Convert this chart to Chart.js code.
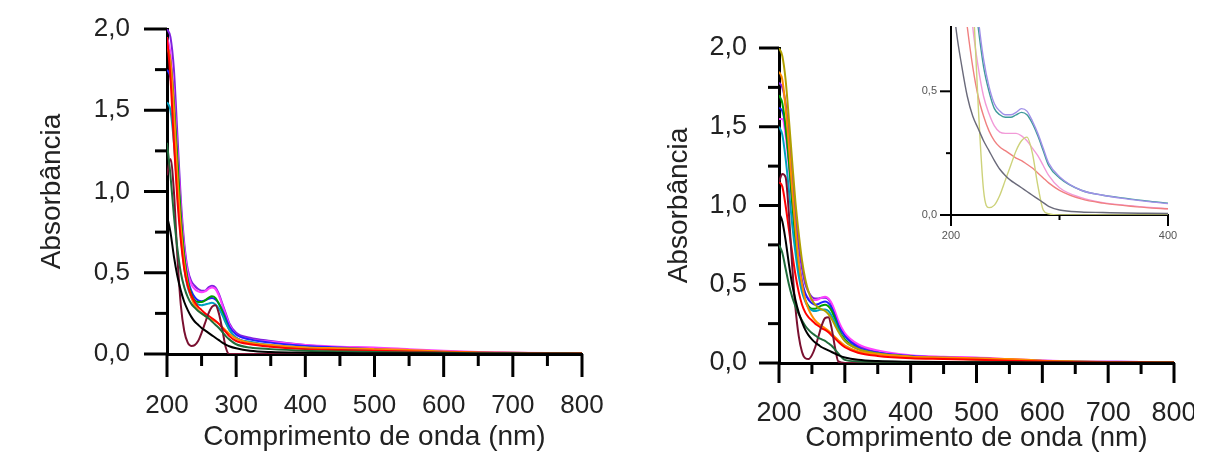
<!DOCTYPE html>
<html>
<head>
<meta charset="utf-8">
<script src="https://cdn.jsdelivr.net/npm/chart.js@4"></script>
<style>
  body { margin: 0; background: #fff; width: 1216px; height: 459px; position: relative; overflow: hidden; }
  canvas { position: absolute; }
  #left { left: 0; top: 0; }
  #right { left: 600px; top: 0; }
  #inset { left: 880px; top: 10px; }
</style>
</head>
<body>
<canvas id="left" width="610" height="459"></canvas>
<canvas id="right" width="594" height="459"></canvas>
<canvas id="inset" width="310" height="250"></canvas>
<script>
// wavelengths (nm) for the two main panels
const WL = [200, 205, 210, 215, 220, 225, 230, 235, 240, 245, 250, 255, 260, 265, 270, 275, 280, 285, 290, 300, 320, 350, 400, 450, 500, 550, 600, 650, 700, 750, 800];

// left panel spectra
const L_black   = [0.85, 0.75, 0.60, 0.48, 0.39, 0.32, 0.27, 0.23, 0.20, 0.18, 0.16, 0.145, 0.13, 0.115, 0.10, 0.085, 0.07, 0.058, 0.048, 0.035, 0.02, 0.012, 0.008, 0.006, 0.005, 0.004, 0.003, 0.002, 0.002, 0.001, 0.001];
const L_dkgreen = [1.30, 1.10, 0.85, 0.65, 0.50, 0.41, 0.35, 0.31, 0.285, 0.265, 0.25, 0.235, 0.22, 0.20, 0.18, 0.16, 0.135, 0.11, 0.09, 0.06, 0.04, 0.03, 0.02, 0.015, 0.012, 0.01, 0.007, 0.005, 0.004, 0.003, 0.002];
const L_maroon  = [1.10, 1.20, 1.00, 0.60, 0.30, 0.14, 0.07, 0.05, 0.055, 0.08, 0.13, 0.19, 0.25, 0.29, 0.30, 0.25, 0.15, 0.04, 0.0, 0.0, 0.0, 0.0, 0.0, 0.0, 0.0, 0.0, 0.0, 0.0, 0.0, 0.0, 0.0];
const L_red     = [1.95, 1.70, 1.30, 0.95, 0.70, 0.52, 0.42, 0.36, 0.32, 0.29, 0.27, 0.25, 0.235, 0.22, 0.205, 0.185, 0.16, 0.135, 0.11, 0.08, 0.06, 0.045, 0.03, 0.025, 0.02, 0.015, 0.01, 0.007, 0.005, 0.004, 0.003];
const L_orange  = [1.90, 1.80, 1.50, 1.10, 0.78, 0.56, 0.43, 0.35, 0.30, 0.27, 0.25, 0.235, 0.22, 0.21, 0.20, 0.185, 0.165, 0.145, 0.125, 0.095, 0.07, 0.055, 0.04, 0.035, 0.03, 0.025, 0.015, 0.01, 0.007, 0.005, 0.004];
const L_cyan    = [1.55, 1.50, 1.30, 1.00, 0.72, 0.53, 0.41, 0.35, 0.32, 0.305, 0.30, 0.305, 0.31, 0.315, 0.305, 0.28, 0.24, 0.19, 0.15, 0.10, 0.075, 0.055, 0.04, 0.03, 0.025, 0.018, 0.012, 0.008, 0.005, 0.004, 0.003];
const L_green   = [1.90, 1.80, 1.55, 1.20, 0.85, 0.60, 0.45, 0.37, 0.33, 0.32, 0.32, 0.33, 0.345, 0.355, 0.345, 0.31, 0.26, 0.20, 0.15, 0.10, 0.07, 0.05, 0.035, 0.025, 0.02, 0.015, 0.01, 0.006, 0.004, 0.003, 0.002];
const L_blue    = [1.75, 1.70, 1.50, 1.15, 0.82, 0.60, 0.46, 0.39, 0.35, 0.33, 0.325, 0.33, 0.34, 0.345, 0.335, 0.31, 0.27, 0.22, 0.17, 0.12, 0.09, 0.07, 0.05, 0.04, 0.03, 0.02, 0.012, 0.008, 0.005, 0.004, 0.003];
const L_magenta = [1.95, 1.85, 1.60, 1.25, 0.90, 0.65, 0.50, 0.43, 0.40, 0.385, 0.38, 0.385, 0.40, 0.41, 0.40, 0.36, 0.30, 0.24, 0.18, 0.12, 0.09, 0.075, 0.055, 0.045, 0.04, 0.03, 0.02, 0.012, 0.008, 0.006, 0.005];
const L_purple  = [2.00, 1.95, 1.75, 1.35, 0.95, 0.68, 0.52, 0.45, 0.42, 0.40, 0.39, 0.39, 0.41, 0.42, 0.41, 0.37, 0.31, 0.25, 0.19, 0.13, 0.10, 0.08, 0.055, 0.04, 0.035, 0.025, 0.015, 0.01, 0.008, 0.005, 0.004];

// right panel spectra
const R_black   = [0.95, 0.90, 0.78, 0.63, 0.50, 0.40, 0.32, 0.26, 0.21, 0.175, 0.15, 0.13, 0.115, 0.10, 0.09, 0.08, 0.07, 0.06, 0.05, 0.035, 0.02, 0.012, 0.008, 0.006, 0.005, 0.004, 0.003, 0.002, 0.002, 0.001, 0.001];
const R_dkgreen = [0.75, 0.70, 0.60, 0.50, 0.42, 0.36, 0.31, 0.27, 0.235, 0.21, 0.19, 0.175, 0.16, 0.15, 0.14, 0.125, 0.11, 0.085, 0.06, 0.02, 0.01, 0.008, 0.006, 0.005, 0.004, 0.003, 0.002, 0.002, 0.001, 0.001, 0.001];
const R_maroon  = [1.15, 1.20, 1.18, 0.95, 0.62, 0.35, 0.17, 0.07, 0.03, 0.025, 0.05, 0.10, 0.17, 0.24, 0.285, 0.29, 0.22, 0.10, 0.01, 0.0, 0.0, 0.0, 0.0, 0.0, 0.0, 0.0, 0.0, 0.0, 0.0, 0.0, 0.0];
const R_red     = [1.15, 1.12, 1.00, 0.85, 0.70, 0.56, 0.45, 0.37, 0.32, 0.29, 0.27, 0.25, 0.235, 0.22, 0.21, 0.195, 0.175, 0.155, 0.135, 0.10, 0.065, 0.045, 0.03, 0.025, 0.02, 0.015, 0.01, 0.007, 0.005, 0.004, 0.003];
const R_orange  = [1.85, 1.80, 1.62, 1.38, 1.10, 0.85, 0.64, 0.50, 0.40, 0.34, 0.30, 0.27, 0.25, 0.235, 0.22, 0.205, 0.185, 0.165, 0.145, 0.11, 0.075, 0.055, 0.04, 0.035, 0.03, 0.025, 0.015, 0.01, 0.007, 0.005, 0.004];
const R_olive   = [2.00, 1.95, 1.80, 1.55, 1.28, 1.02, 0.82, 0.65, 0.53, 0.45, 0.40, 0.37, 0.35, 0.34, 0.33, 0.31, 0.28, 0.24, 0.20, 0.14, 0.09, 0.06, 0.04, 0.03, 0.025, 0.02, 0.012, 0.008, 0.006, 0.004, 0.003];
const R_cyan    = [1.50, 1.45, 1.30, 1.10, 0.88, 0.70, 0.55, 0.45, 0.39, 0.35, 0.335, 0.33, 0.335, 0.34, 0.34, 0.33, 0.30, 0.26, 0.21, 0.14, 0.09, 0.06, 0.04, 0.03, 0.025, 0.018, 0.012, 0.008, 0.005, 0.004, 0.003];
const R_green   = [1.70, 1.65, 1.50, 1.28, 1.02, 0.78, 0.60, 0.47, 0.40, 0.36, 0.345, 0.345, 0.355, 0.365, 0.37, 0.36, 0.33, 0.28, 0.22, 0.15, 0.09, 0.06, 0.04, 0.03, 0.022, 0.016, 0.01, 0.006, 0.004, 0.003, 0.002];
const R_blue    = [1.62, 1.60, 1.50, 1.30, 1.05, 0.82, 0.64, 0.52, 0.44, 0.40, 0.38, 0.37, 0.375, 0.385, 0.39, 0.38, 0.35, 0.30, 0.24, 0.17, 0.10, 0.065, 0.045, 0.035, 0.03, 0.02, 0.012, 0.008, 0.005, 0.004, 0.003];
const R_magenta = [1.55, 1.55, 1.45, 1.25, 1.00, 0.78, 0.60, 0.50, 0.44, 0.41, 0.40, 0.40, 0.405, 0.415, 0.42, 0.41, 0.38, 0.33, 0.27, 0.19, 0.12, 0.08, 0.05, 0.04, 0.035, 0.025, 0.016, 0.01, 0.008, 0.006, 0.005];
const R_purple  = [1.78, 1.75, 1.65, 1.45, 1.20, 0.95, 0.74, 0.60, 0.50, 0.45, 0.42, 0.41, 0.41, 0.415, 0.415, 0.405, 0.37, 0.31, 0.25, 0.18, 0.11, 0.07, 0.045, 0.035, 0.03, 0.02, 0.015, 0.01, 0.008, 0.006, 0.005];

// inset (zoom of the right panel, 200-400 nm)
const WL_IN = [200, 205, 210, 215, 220, 225, 230, 235, 240, 245, 250, 255, 260, 265, 270, 275, 280, 285, 290, 300, 320, 340, 360, 380, 400];
const I_gray     = [0.95, 0.74, 0.60, 0.48, 0.40, 0.35, 0.30, 0.26, 0.22, 0.185, 0.16, 0.14, 0.125, 0.11, 0.095, 0.08, 0.065, 0.05, 0.035, 0.02, 0.012, 0.01, 0.008, 0.007, 0.006];
const I_yellow   = [2.00, 1.80, 1.60, 1.20, 0.90, 0.45, 0.10, 0.03, 0.04, 0.08, 0.14, 0.20, 0.26, 0.30, 0.315, 0.25, 0.12, 0.02, 0.005, 0.0, 0.0, 0.0, 0.0, 0.0, 0.0];
const I_salmon   = [1.60, 1.20, 0.95, 0.76, 0.60, 0.48, 0.40, 0.34, 0.30, 0.275, 0.26, 0.245, 0.23, 0.22, 0.205, 0.19, 0.17, 0.15, 0.13, 0.10, 0.065, 0.048, 0.038, 0.03, 0.025];
const I_pink     = [1.80, 1.55, 1.30, 1.00, 0.76, 0.60, 0.48, 0.41, 0.36, 0.335, 0.33, 0.33, 0.33, 0.32, 0.30, 0.27, 0.24, 0.20, 0.16, 0.11, 0.07, 0.05, 0.04, 0.032, 0.025];
const I_lavender = [2.00, 1.85, 1.60, 1.30, 1.02, 0.80, 0.63, 0.52, 0.45, 0.42, 0.405, 0.405, 0.415, 0.43, 0.42, 0.38, 0.33, 0.27, 0.21, 0.155, 0.10, 0.08, 0.066, 0.055, 0.046];
const I_teal     = [2.00, 1.80, 1.50, 1.20, 0.95, 0.76, 0.60, 0.50, 0.43, 0.405, 0.395, 0.395, 0.405, 0.415, 0.405, 0.37, 0.32, 0.26, 0.20, 0.15, 0.10, 0.08, 0.068, 0.057, 0.048];

// tick positions
const X_MAJOR = [200, 300, 400, 500, 600, 700, 800];
const X_MINOR = [250, 350, 450, 550, 650, 750];
const Y_MAJOR = [0, 0.5, 1.0, 1.5, 2.0];
const Y_MINOR = [0.25, 0.75, 1.25, 1.75];
const IN_X_MAJOR = [200, 400];
const IN_X_MINOR = [300];
const IN_Y_MAJOR = [0, 0.5];
const IN_Y_MINOR = [0.25];

const FONT = "'Liberation Sans', Arial, sans-serif";

const toPoints = (xs, ys) => xs.map((x, i) => ({ x, y: ys[i] }));
const comma = v => v.toFixed(1).replace('.', ',');

// draws major/minor tick marks outside the axes
const tickMarks = {
    id: 'tickMarks',
    afterDraw(chart, args, opts) {
        const { ctx } = chart;
        const xs = chart.scales.x;
        const ys = chart.scales.y;
        ctx.save();
        ctx.strokeStyle = '#000';
        ctx.lineWidth = opts.width;
        const vtick = (v, len) => {
            const px = xs.getPixelForValue(v);
            ctx.beginPath(); ctx.moveTo(px, ys.bottom); ctx.lineTo(px, ys.bottom + len); ctx.stroke();
        };
        const htick = (v, len) => {
            const py = ys.getPixelForValue(v);
            ctx.beginPath(); ctx.moveTo(xs.left, py); ctx.lineTo(xs.left - len, py); ctx.stroke();
        };
        opts.xMajor.forEach(v => vtick(v, opts.major));
        opts.xMinor.forEach(v => vtick(v, opts.minor));
        opts.yMajor.forEach(v => htick(v, opts.major));
        opts.yMinor.forEach(v => htick(v, opts.minor));
        ctx.restore();
    }
};

const makeSets = (xs, list, width) => list.map(([data, color]) => ({
    data: toPoints(xs, data),
    borderColor: color,
    borderWidth: width,
    pointRadius: 0,
    cubicInterpolationMode: 'monotone',
    fill: false
}));

const mainChart = (canvas, sets, cfg) => new Chart(canvas, {
    type: 'line',
    data: { datasets: sets },
    plugins: [tickMarks],
    options: {
        responsive: false,
        animation: false,
        devicePixelRatio: 1,
        layout: { padding: { top: cfg.top, right: cfg.right, left: 0, bottom: 0 } },
        plugins: {
            legend: { display: false },
            tooltip: { enabled: false },
            tickMarks: { xMajor: X_MAJOR, xMinor: X_MINOR, yMajor: Y_MAJOR, yMinor: Y_MINOR, major: cfg.major, minor: cfg.minor, width: 3 }
        },
        scales: {
            x: {
                type: 'linear', min: 200, max: 800,
                grid: { display: true, drawOnChartArea: false, drawTicks: false },
                border: { display: true, color: '#000', width: 3 },
                ticks: { stepSize: 100, padding: cfg.xPad, color: '#222', font: { family: FONT, size: cfg.tickSize } },
                title: { display: true, text: 'Comprimento de onda (nm)', color: '#222', font: { family: FONT, size: 28 }, padding: { top: 0, bottom: cfg.xTitlePad } },
                afterFit: s => { s.height = cfg.xHeight; s.paddingLeft = 0; s.paddingRight = 0; }
            },
            y: {
                type: 'linear', min: 0, max: 2,
                grid: { display: true, drawOnChartArea: false, drawTicks: false },
                border: { display: true, color: '#000', width: 3 },
                ticks: { stepSize: 0.5, padding: cfg.yPad, color: '#222', font: { family: FONT, size: cfg.tickSize }, callback: comma },
                title: { display: true, text: 'Absorbância', color: '#222', font: { family: FONT, size: 28 }, padding: { top: cfg.yTitlePad, bottom: 0 } },
                afterFit: s => { s.width = cfg.yWidth; s.paddingTop = 0; s.paddingBottom = 0; }
            }
        }
    }
});

document.addEventListener('DOMContentLoaded', () => {
    mainChart(document.getElementById('left'), makeSets(WL, [
        [L_black, '#000000'], [L_dkgreen, '#1f6b3a'], [L_maroon, '#7a1030'], [L_red, '#ff0000'],
        [L_orange, '#ff8c00'], [L_cyan, '#00a0c0'], [L_green, '#00a000'], [L_blue, '#2020ff'],
        [L_magenta, '#ff40ff'], [L_purple, '#8020e0']
    ], 2), { top: 29, right: 28, xHeight: 105, yWidth: 167, xPad: 36, yPad: 37, xTitlePad: 5, yTitlePad: 35, tickSize: 26, major: 23, minor: 12 });

    mainChart(document.getElementById('right'), makeSets(WL, [
        [R_black, '#000000'], [R_dkgreen, '#1f6b3a'], [R_maroon, '#7a1030'], [R_red, '#ff0000'],
        [R_orange, '#ff8c00'], [R_olive, '#b0a000'], [R_cyan, '#00a0c0'], [R_green, '#00a000'],
        [R_blue, '#2020ff'], [R_magenta, '#ff40ff'], [R_purple, '#8020e0']
    ], 2), { top: 48, right: 20, xHeight: 96, yWidth: 179, xPad: 34, yPad: 32, xTitlePad: 4, yTitlePad: 62, tickSize: 27, major: 20, minor: 11 });

    // inset
    new Chart(document.getElementById('inset'), {
        type: 'line',
        data: { datasets: makeSets(WL_IN, [
            [I_gray, '#6a6a7a'], [I_yellow, '#cdd27a'], [I_salmon, '#f08080'], [I_pink, '#f29ad8'],
            [I_lavender, '#a090e8'], [I_teal, '#3f9a9a']
        ], 1.4) },
        plugins: [tickMarks],
        options: {
            responsive: false,
            animation: false,
            devicePixelRatio: 1,
            layout: { padding: { top: 17, right: 22, left: 0, bottom: 0 } },
            plugins: {
                legend: { display: false },
                tooltip: { enabled: false },
                tickMarks: { xMajor: IN_X_MAJOR, xMinor: IN_X_MINOR, yMajor: IN_Y_MAJOR, yMinor: IN_Y_MINOR, major: 11, minor: 5, width: 2 }
            },
            scales: {
                x: {
                    type: 'linear', min: 200, max: 400,
                    grid: { display: true, drawOnChartArea: false, drawTicks: false },
                    border: { display: true, color: '#000', width: 2 },
                    ticks: { stepSize: 200, padding: 14, color: '#555', font: { family: FONT, size: 11 } },
                    afterFit: s => { s.height = 45; s.paddingLeft = 0; s.paddingRight = 0; }
                },
                y: {
                    type: 'linear', min: 0, max: 0.76,
                    grid: { display: true, drawOnChartArea: false, drawTicks: false },
                    border: { display: true, color: '#000', width: 2 },
                    afterBuildTicks: s => { s.ticks = IN_Y_MAJOR.map(v => ({ value: v })); },
                    ticks: { padding: 14, color: '#555', font: { family: FONT, size: 11 }, callback: comma },
                    afterFit: s => { s.width = 71; s.paddingTop = 0; s.paddingBottom = 0; }
                }
            }
        }
    });
});
</script>
</body>
</html>
